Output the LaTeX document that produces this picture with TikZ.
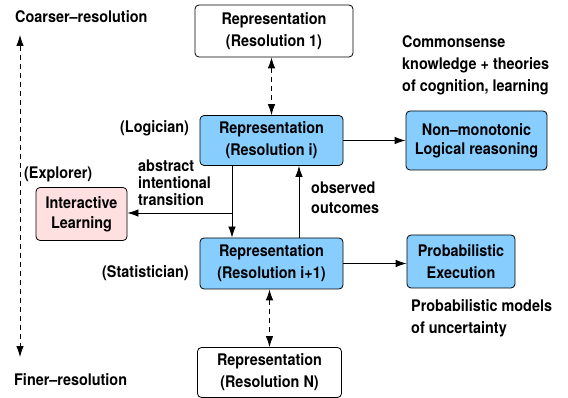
\documentclass[tikz,border=0pt]{standalone}
\usepackage{fontspec}
\setmainfont[FakeStretch=0.9]{TeX Gyre Heros}
\usepackage{xcolor}
\usetikzlibrary{positioning, arrows.meta}
\definecolor{reprblue}{RGB}{135,206,255}
\definecolor{learnpink}{RGB}{255,224,224}

\begin{document}
\begin{tikzpicture}[
  x=1pt, y=-1pt,
  font=\bfseries\fontsize{16}{22}\selectfont,
  box/.style={draw, line width=0.8pt, rounded corners=4pt, align=center, fill=white, inner sep=2pt},
  blue box/.style={box, fill=reprblue},
  note/.style={align=left, inner sep=0pt, anchor=west},
  arr/.style={-{Latex[length=11pt, width=7.5pt]}, line width=0.8pt},
  dasharr/.style={{Latex[length=11pt, width=7.5pt]}-{Latex[length=11pt, width=7.5pt]}, line width=0.8pt, dash pattern=on 5pt off 4pt}
]
\useasboundingbox (0,0) rectangle (568,398);

\node[box, minimum width=158pt, minimum height=52pt] (res1) at (274,31) {Representation\\(Resolution 1)};
\node[blue box, minimum width=143pt, minimum height=50pt] (resi) at (271.5,140.5) {Representation\\(Resolution i)};
\node[blue box, minimum width=141pt, minimum height=59pt] (nonmono) at (476.5,140.5) {Non--monotonic\\[-3pt]Logical reasoning};
\node[box, fill=learnpink, minimum width=91pt, minimum height=53pt] (explore) at (81.5,214) {Interactive\\[-2pt]Learning};
\node[blue box, minimum width=143pt, minimum height=51pt] (resii) at (271.5,263.5) {Representation\\(Resolution i+1)};
\node[blue box, minimum width=108pt, minimum height=53pt] (probexec) at (461,261.5) {Probabilistic\\Execution};
\node[box, minimum width=144pt, minimum height=50pt] (resN) at (269.5,372.5) {Representation\\(Resolution N)};

% labels
\node[note] (coarse) at (15,17) {Coarser--resolution};
\node[note] (fine) at (14,380) {Finer--resolution};
\node[note] (logician) at (120,128) {(Logician)};
\node[note] (explorer) at (24,174) {(Explorer)};
\node[note] (statist) at (102,273) {(Statistician)};
\node[note, font=\bfseries\fontsize{16}{17}\selectfont] (abstr) at (138,183) {abstract\\intentional\\transition};
\node[note, font=\bfseries\fontsize{16}{20}\selectfont] (observ) at (311,198) {observed\\outcomes};
\node[note] (common) at (402,65.5) {Commonsense\\knowledge + theories\\of cognition, learning};
\node[note] (probmod) at (411,318) {Probabilistic models\\of uncertainty};

\coordinate (scaletop) at (20,35);
\coordinate (scalebot) at (20,357);
\coordinate (split) at (232,213);

\draw[dasharr] (scaletop) -- (scalebot);
\draw[dasharr] (res1.south -| resi.north) -- (resi.north);
\draw[arr] (resi) -- (nonmono);
\draw[arr] (resi.south -| split) -- (resii.north -| split);
\draw[arr] (split) -- (explore.east |- split);
\draw[arr] ([xshift=27.5pt]resii.north) -- ([xshift=27.5pt]resi.south);
\draw[arr] (resii.east) -- (resii.east -| probexec.west);
\draw[dasharr] (resii.south -| resN.north) -- (resN.north);
\end{tikzpicture}
\end{document}
